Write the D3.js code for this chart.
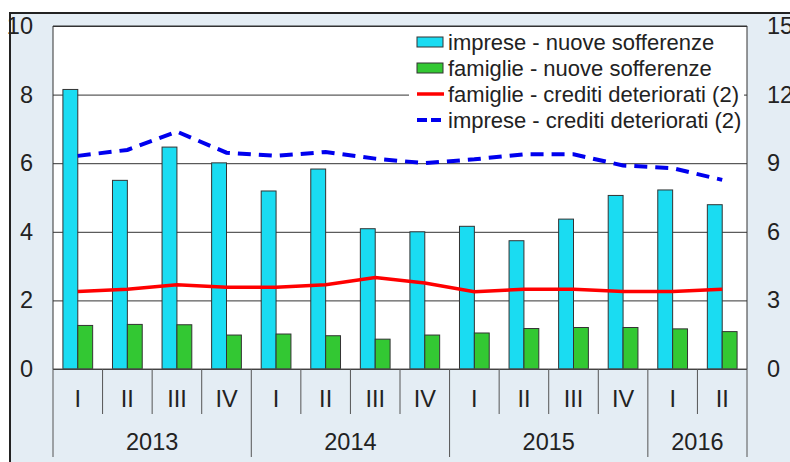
<!DOCTYPE html>
<html>
<head>
<meta charset="utf-8">
<script src="https://cdn.jsdelivr.net/npm/d3@7"></script>
<style>
  body { margin: 0; background: #fff; }
  svg { display: block; font-family: "Liberation Sans", Arial, sans-serif; }
</style>
</head>
<body>
<svg id="chart" width="790" height="462"></svg>
<script>
// trimestri e anni
const quarters = ['I', 'II', 'III', 'IV', 'I', 'II', 'III', 'IV', 'I', 'II', 'III', 'IV', 'I', 'II'];
const years = ['2013', '2014', '2015', '2016'];
const quartersPerYear = [4, 4, 4, 2];

// serie (barre: asse sx, linee: asse dx)
const impreseNuove = [8.15, 5.5, 6.47, 6.01, 5.19, 5.83, 4.09, 4.0, 4.16, 3.74, 4.37, 5.06, 5.22, 4.79];
const famiglieNuove = [1.27, 1.30, 1.29, 0.99, 1.02, 0.97, 0.87, 0.99, 1.05, 1.18, 1.21, 1.21, 1.17, 1.09];
const famiglieDet = [3.39, 3.49, 3.68, 3.58, 3.58, 3.68, 4.0, 3.76, 3.38, 3.49, 3.49, 3.39, 3.39, 3.49];
const impreseDet = [9.32, 9.58, 10.38, 9.46, 9.32, 9.49, 9.2, 9.0, 9.17, 9.39, 9.39, 8.9, 8.78, 8.27];

const leftTicks = [0, 2, 4, 6, 8, 10];
const rightTicks = [0, 3, 6, 9, 12, 15];

const legendItems = [
  {label: 'imprese - nuove sofferenze', type: 'bar', color: '#1adcf2'},
  {label: 'famiglie - nuove sofferenze', type: 'bar', color: '#33c833'},
  {label: 'famiglie - crediti deteriorati (2)', type: 'line', color: '#ff0000'},
  {label: 'imprese - crediti deteriorati (2)', type: 'dash', color: '#0000ee'},
];

const width = 790;
const height = 462;
const margin = {top: 26, right: 43, bottom: 93, left: 53};
const innerRight = width - margin.right;
const innerBottom = height - margin.bottom;

const svg = d3.select('#chart');

// sfondo
svg.append('rect')
  .attr('x', 10).attr('y', 13)
  .attr('width', width - 10).attr('height', height - 13)
  .attr('fill', '#e4edf4');
svg.append('path')
  .attr('d', `M10,${height} V13 H${width}`)
  .attr('fill', 'none')
  .attr('stroke', '#222')
  .attr('stroke-width', 2);

svg.append('rect')
  .attr('x', margin.left).attr('y', margin.top)
  .attr('width', innerRight - margin.left).attr('height', innerBottom - margin.top)
  .attr('fill', '#fff');

const x = d3.scaleBand()
  .domain(d3.range(quarters.length))
  .range([margin.left, innerRight])
  .padding(0);

const yL = d3.scaleLinear().domain([0, 10]).range([innerBottom, margin.top]);
const yR = d3.scaleLinear().domain([0, 15]).range([innerBottom, margin.top]);

// griglia
svg.append('g')
  .attr('transform', `translate(${margin.left},0)`)
  .call(d3.axisLeft(yL).tickValues(leftTicks).tickSize(-(innerRight - margin.left)).tickFormat(''))
  .call(g => g.select('.domain').remove())
  .call(g => g.selectAll('.tick line').attr('stroke', '#333').attr('stroke-width', 1));

// etichette assi
const tickFont = g => g.selectAll('text')
  .attr('font-size', 23.5)
  .attr('fill', '#222');

svg.append('g')
  .attr('transform', `translate(${margin.left},0)`)
  .call(d3.axisLeft(yL).tickValues(leftTicks).tickSize(0).tickPadding(20))
  .call(g => g.select('.domain').remove())
  .call(tickFont);

svg.append('g')
  .attr('transform', `translate(${innerRight},0)`)
  .call(d3.axisRight(yR).tickValues(rightTicks).tickSize(0).tickPadding(20))
  .call(g => g.select('.domain').remove())
  .call(tickFont);

// barre
const bw = x.bandwidth() * 0.3;
svg.append('g').selectAll('rect')
  .data(impreseNuove)
  .join('rect')
  .attr('x', (d, i) => x(i) + x.bandwidth() / 2 - bw)
  .attr('y', d => yL(d))
  .attr('width', bw)
  .attr('height', d => yL(0) - yL(d))
  .attr('fill', legendItems[0].color)
  .attr('stroke', '#333')
  .attr('stroke-width', 1);

svg.append('g').selectAll('rect')
  .data(famiglieNuove)
  .join('rect')
  .attr('x', (d, i) => x(i) + x.bandwidth() / 2)
  .attr('y', d => yL(d))
  .attr('width', bw)
  .attr('height', d => yL(0) - yL(d))
  .attr('fill', legendItems[1].color)
  .attr('stroke', '#333')
  .attr('stroke-width', 1);

// linee
const lineR = d3.line()
  .x((d, i) => x(i) + x.bandwidth() / 2)
  .y(d => yR(d));

svg.append('path')
  .datum(impreseDet)
  .attr('fill', 'none')
  .attr('stroke', legendItems[3].color)
  .attr('stroke-width', 4)
  .attr('stroke-dasharray', '13,8')
  .attr('d', lineR);

svg.append('path')
  .datum(famiglieDet)
  .attr('fill', 'none')
  .attr('stroke', legendItems[2].color)
  .attr('stroke-width', 3.5)
  .attr('d', lineR);

// bordo area grafico
svg.append('path')
  .attr('d', `M${margin.left},${innerBottom} V${margin.top} H${innerRight} V${innerBottom}`)
  .attr('fill', 'none')
  .attr('stroke', '#333')
  .attr('stroke-width', 1);

// asse categorie
svg.append('line')
  .attr('x1', margin.left).attr('x2', innerRight)
  .attr('y1', innerBottom).attr('y2', innerBottom)
  .attr('stroke', '#555');

const yearBounds = [0];
quartersPerYear.forEach(n => yearBounds.push(yearBounds[yearBounds.length - 1] + n));

const bx = k => k < quarters.length ? x(k) : innerRight;

svg.append('g').selectAll('line')
  .data(d3.range(quarters.length + 1))
  .join('line')
  .attr('x1', k => bx(k)).attr('x2', k => bx(k))
  .attr('y1', innerBottom)
  .attr('y2', k => yearBounds.includes(k) ? 457 : 414)
  .attr('stroke', '#555')
  .attr('stroke-width', 1);

svg.append('g').selectAll('text')
  .data(quarters)
  .join('text')
  .attr('x', (d, i) => x(i) + x.bandwidth() / 2)
  .attr('y', 399)
  .attr('dy', '0.35em')
  .attr('text-anchor', 'middle')
  .attr('font-size', 23.5)
  .attr('fill', '#222')
  .text(d => d);

svg.append('g').selectAll('text')
  .data(years)
  .join('text')
  .attr('x', (d, i) => (bx(yearBounds[i]) + bx(yearBounds[i + 1])) / 2)
  .attr('y', 442)
  .attr('dy', '0.35em')
  .attr('text-anchor', 'middle')
  .attr('font-size', 23.5)
  .attr('fill', '#222')
  .text(d => d);

// legenda
const legend = svg.append('g');
legend.append('rect')
  .attr('x', 409).attr('y', 27)
  .attr('width', 335).attr('height', 107)
  .attr('fill', '#fff');

const row = legend.selectAll('g')
  .data(legendItems)
  .join('g')
  .attr('transform', (d, i) => `translate(417,${42 + i * 26})`);

row.filter(d => d.type === 'bar').append('rect')
  .attr('x', 0).attr('y', -5)
  .attr('width', 26).attr('height', 10)
  .attr('fill', d => d.color)
  .attr('stroke', '#333');

row.filter(d => d.type !== 'bar').append('line')
  .attr('x1', 0).attr('x2', 27)
  .attr('y1', 0).attr('y2', 0)
  .attr('stroke', d => d.color)
  .attr('stroke-width', d => d.type === 'dash' ? 4 : 3.5)
  .attr('stroke-dasharray', d => d.type === 'dash' ? '10,4' : null);

row.append('text')
  .attr('x', 31)
  .attr('dy', '0.35em')
  .attr('font-size', 22)
  .attr('fill', '#222')
  .text(d => d.label);
</script>
</body>
</html>
